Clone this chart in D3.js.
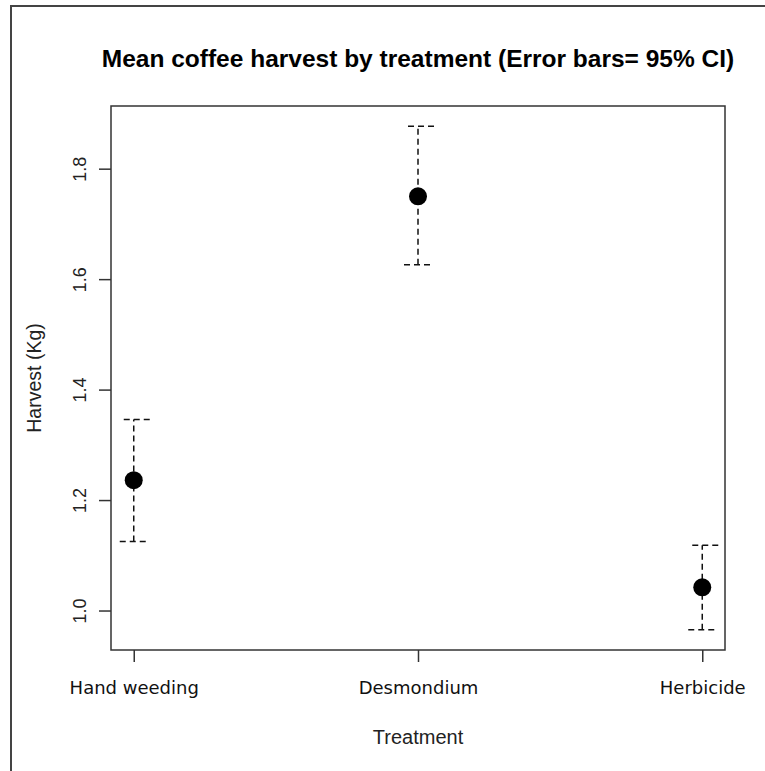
<!DOCTYPE html>
<html>
<head>
<meta charset="utf-8">
<script src="https://cdn.jsdelivr.net/npm/d3@7/dist/d3.min.js"></script>
<style>
  html, body { margin: 0; padding: 0; background: #fff; }
  svg { display: block; }
</style>
</head>
<body>
<script>
// ---- data ----
const categories = ["Hand weeding", "Desmondium", "Herbicide"];
const means = [1.236, 1.750, 1.042];
const lowerCI = [1.125, 1.626, 0.965];
const upperCI = [1.346, 1.877, 1.118];
const yTicks = [1.0, 1.2, 1.4, 1.6, 1.8];
const titleText = "Mean coffee harvest by treatment (Error bars= 95% CI)";
const xLabel = "Treatment";
const yLabel = "Harvest (Kg)";

// ---- layout ----
const W = 765, H = 771;
const plot = { left: 111, top: 106, right: 725, bottom: 650 };

const svg = d3.select("body").append("svg").attr("width", W).attr("height", H);

// outer frame (left and top edges visible)
svg.append("path")
  .attr("d", `M11,${H} L11,6 L${W},6`)
  .attr("fill", "none").attr("stroke", "#444").attr("stroke-width", 2);

// scales (R-style 4% padding)
const n = categories.length;
const xPad = (n - 1) * 0.04;
const x = d3.scaleLinear().domain([1 - xPad, n + xPad]).range([plot.left, plot.right]);
const yMin = d3.min(lowerCI), yMax = d3.max(upperCI);
const yPad = (yMax - yMin) * 0.04;
const y = d3.scaleLinear().domain([yMin - yPad, yMax + yPad]).range([plot.bottom, plot.top]);

// plot box
svg.append("rect")
  .attr("x", plot.left).attr("y", plot.top)
  .attr("width", plot.right - plot.left).attr("height", plot.bottom - plot.top)
  .attr("fill", "none").attr("stroke", "#333").attr("stroke-width", 1.5);

// y axis
const yAxis = d3.axisLeft(y).tickValues(yTicks).tickFormat(d3.format(".1f")).tickSize(12).tickPadding(0);
const gy = svg.append("g").attr("transform", `translate(${plot.left},0)`).call(yAxis);
gy.select(".domain").remove();
gy.selectAll(".tick line").attr("stroke", "#333").attr("stroke-width", 1.5);
gy.selectAll(".tick text")
  .attr("transform", `translate(-25,0) rotate(-90)`)
  .attr("x", 0).attr("y", 0).attr("dy", "0")
  .attr("text-anchor", "middle")
  .attr("font-family", "Liberation Sans, Arial, sans-serif")
  .attr("font-size", 18).attr("fill", "#222");

// x axis
const xAxis = d3.axisBottom(x).tickValues(d3.range(1, n + 1))
  .tickFormat(i => categories[i - 1]).tickSize(12).tickPadding(19);
const gx = svg.append("g").attr("transform", `translate(0,${plot.bottom})`).call(xAxis);
gx.select(".domain").remove();
gx.selectAll(".tick line").attr("stroke", "#333").attr("stroke-width", 1.5);
gx.selectAll(".tick text")
  .attr("font-family", "DejaVu Sans, Verdana, sans-serif")
  .attr("font-size", 18).attr("fill", "#111");

// error bars
const g = svg.append("g");
const dash = "6,4";
categories.forEach((c, i) => {
  const cx = x(i + 1);
  g.append("line")
    .attr("x1", cx).attr("x2", cx).attr("y1", y(lowerCI[i])).attr("y2", y(upperCI[i]))
    .attr("stroke", "#111").attr("stroke-width", 1.5).attr("stroke-dasharray", dash);
  g.append("line")
    .attr("x1", cx - 10).attr("x2", cx + 17).attr("y1", y(upperCI[i])).attr("y2", y(upperCI[i]))
    .attr("stroke", "#111").attr("stroke-width", 1.5).attr("stroke-dasharray", dash);
  g.append("line")
    .attr("x1", cx + 12).attr("x2", cx - 15).attr("y1", y(lowerCI[i])).attr("y2", y(lowerCI[i]))
    .attr("stroke", "#111").attr("stroke-width", 1.5).attr("stroke-dasharray", dash);
});

// points
g.selectAll("circle").data(means).join("circle")
  .attr("cx", (d, i) => x(i + 1)).attr("cy", d => y(d)).attr("r", 9).attr("fill", "#000");

// title
svg.append("text")
  .attr("x", (plot.left + plot.right) / 2).attr("y", 67)
  .attr("text-anchor", "middle")
  .attr("font-family", "Liberation Sans, Arial, sans-serif")
  .attr("font-weight", "bold").attr("font-size", 24.5).attr("fill", "#000")
  .text(titleText);

// axis labels
svg.append("text")
  .attr("x", (plot.left + plot.right) / 2).attr("y", 744)
  .attr("text-anchor", "middle")
  .attr("font-family", "Liberation Sans, Arial, sans-serif")
  .attr("font-size", 20).attr("fill", "#222")
  .text(xLabel);

svg.append("text")
  .attr("transform", `translate(41,${(plot.top + plot.bottom) / 2}) rotate(-90)`)
  .attr("text-anchor", "middle")
  .attr("font-family", "Liberation Sans, Arial, sans-serif")
  .attr("font-size", 19.5).attr("fill", "#222")
  .text(yLabel);
</script>
</body>
</html>
